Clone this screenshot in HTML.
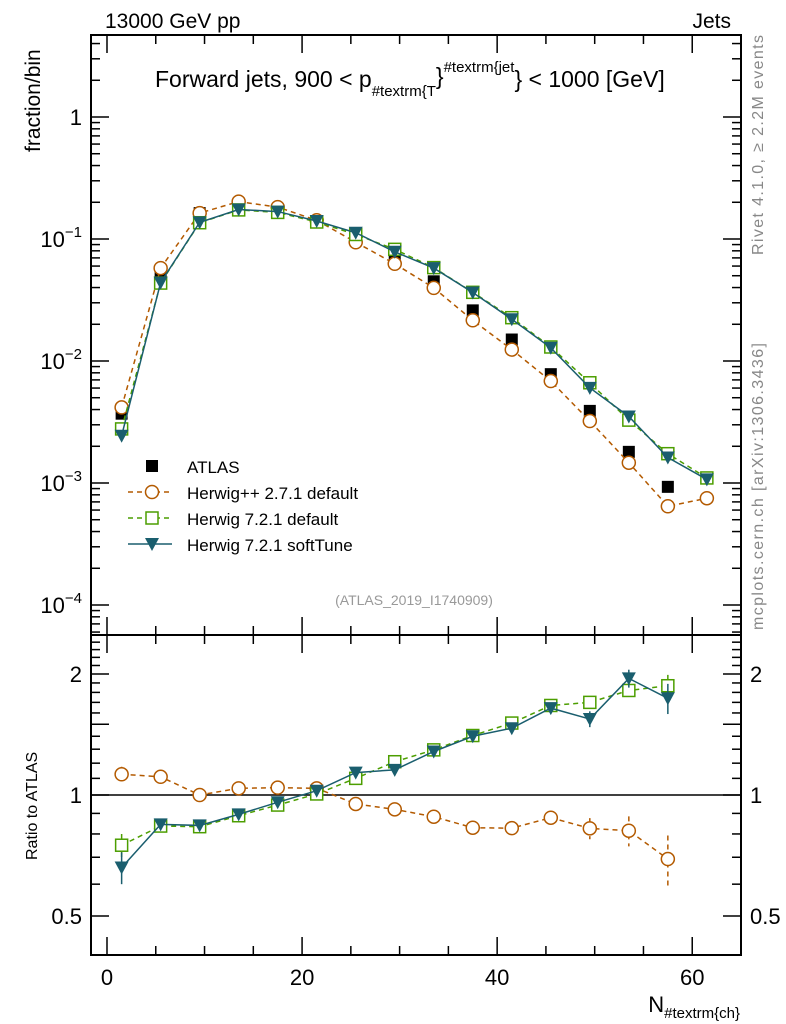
<!DOCTYPE html>
<html><head><meta charset="utf-8"><style>
html,body{margin:0;padding:0;background:#fff;}
svg{display:block;font-family:"Liberation Sans",sans-serif;}
</style></head><body>
<svg id="c" width="786" height="1024" viewBox="0 0 786 1024"></svg>
<script>
const xCenters=[1.5,5.5,9.5,13.5,17.5,21.5,25.5,29.5,33.5,37.5,41.5,45.5,49.5,53.5,57.5];
const atlasVals=[0.0037,0.052,0.163,0.195,0.175,0.137,0.099,0.068,0.045,0.026,0.015,0.0078,0.0039,0.0018,0.00093];
const hppRatio=[1.126,1.11,1.0,1.039,1.043,1.039,0.95,0.921,0.883,0.829,0.827,0.878,0.826,0.815,0.693];
const hppErr=[0.05,0.02,0.01,0.01,0.01,0.01,0.01,0.01,0.01,0.01,0.02,0.03,0.05,0.07,0.1];
const h7Ratio=[0.75,0.837,0.834,0.888,0.944,1.006,1.10,1.21,1.295,1.406,1.51,1.67,1.70,1.82,1.87];
const h7Err=[0.05,0.01,0.01,0.01,0.01,0.01,0.01,0.01,0.01,0.01,0.02,0.03,0.05,0.08,0.12];
const stRatio=[0.66,0.845,0.84,0.895,0.959,1.025,1.137,1.155,1.283,1.40,1.466,1.645,1.545,1.95,1.74];
const stErr=[0.06,0.01,0.01,0.01,0.01,0.01,0.01,0.01,0.01,0.02,0.02,0.04,0.07,0.1,0.15];
const extraX=[61.5];
const hppExtra=[0.00075];
const h7Extra=[0.0011];
const stExtra=[0.00107];
const xTicks=[0,20,40,60];
const mainTicks=[1e-4,1e-3,1e-2,1e-1,1];
const mainTickBase=["10","10","10","10","1"];
const mainTickExp=["−4","−3","−2","−1",""];
const ratioTicks=[0.5,1,2];
const ratioTickLabels=["0.5","1","2"];

const L=91,R=741,MT=35,MB=635,RT=635,RB=955;
const xmin=-1.64,xmax=65;
const X=v=>L+(v-xmin)/(xmax-xmin)*(R-L);
const Ylog=v=>117-Math.log10(v)*122;
const Yr=v=>795-Math.log2(v)*121;
const svg=document.getElementById('c');
const NS='http://www.w3.org/2000/svg';
function mk(tag,attrs,name,parent){const e=document.createElementNS(NS,tag);for(const k in attrs)e.setAttribute(k,attrs[k]);


(parent||svg).appendChild(e);return e;}
function txt(x,y,s,name,attrs){const t=mk('text',Object.assign({x:x,y:y,'font-size':20,fill:'#000'},attrs||{}),name);t.textContent=s;return t;}

mk('rect',{x:L,y:MT,width:R-L,height:MB-MT,fill:'none',stroke:'#000','stroke-width':2},'main-frame');
mk('rect',{x:L,y:RT,width:R-L,height:RB-RT,fill:'none',stroke:'#000','stroke-width':2},'ratio-frame');
for(let v=0;v<=65;v+=5){const maj=v%20==0;const len=maj?18:9;
 [[MT,1],[MB,-1],[RT,1],[RB,-1]].forEach(([y,d])=>{mk('line',{x1:X(v),x2:X(v),y1:y,y2:y+d*len,stroke:'#000','stroke-width':1.5},'x-tick');});}
xTicks.forEach(v=>txt(X(v),985,String(v),'x-tick-label',{'text-anchor':'middle','font-size':22}));
for(let d=-5;d<=0;d++){for(let m=1;m<=9;m++){const v=m*Math.pow(10,d);const y=Ylog(v);if(y<MT||y>MB)continue;const len=m==1?18:9;
 mk('line',{x1:L,x2:L+len,y1:y,y2:y,stroke:'#000','stroke-width':1.5},'y-tick');
 mk('line',{x1:R,x2:R-len,y1:y,y2:y,stroke:'#000','stroke-width':1.5},'y-tick');}}
mainTicks.forEach((v,i)=>{const t=mk('text',{x:82,y:Ylog(v)+8,'font-size':22,'text-anchor':'end',fill:'#000'},'y-tick-label');
 if(mainTickExp[i]) t.innerHTML=mainTickBase[i]+'<tspan dy="-10" font-size="15">'+mainTickExp[i]+'</tspan>'; else t.textContent=mainTickBase[i];});
for(let v=0.4;v<=2.5;v+=0.1){const y=Yr(v);if(y<RT||y>RB)continue;const maj=[0.5,1,1.5,2].some(t=>Math.abs(t-v)<1e-6);const len=maj?18:9;
 mk('line',{x1:L,x2:L+len,y1:y,y2:y,stroke:'#000','stroke-width':1.5},'ratio-tick');
 mk('line',{x1:R,x2:R-len,y1:y,y2:y,stroke:'#000','stroke-width':1.5},'ratio-tick');}
ratioTicks.forEach((v,i)=>{txt(82,Yr(v)+8,ratioTickLabels[i],'ratio-tick-label',{'text-anchor':'end','font-size':22});
 txt(750,Yr(v)+8,ratioTickLabels[i],'ratio-tick-label-right',{'font-size':22});});
mk('line',{x1:L,x2:R,y1:Yr(1),y2:Yr(1),stroke:'#000','stroke-width':1.5},'ratio-unity-line');

const C_HPP='#b35a00',C_H7='#4c9e00',C_ST='#1a5e6e';
function markers(kind,x,y,col,name){
 if(kind=='circ')mk('circle',{cx:x,cy:y,r:6.5,fill:'#fff',stroke:col,'stroke-width':1.5},name);
 else if(kind=='sq')mk('rect',{x:x-6,y:y-6,width:12,height:12,fill:'#fff',stroke:col,'stroke-width':1.5},name);
 else if(kind=='tri')mk('path',{d:`M${x-7},${y-6}L${x+7},${y-6}L${x},${y+7}Z`,fill:col},name);
 else mk('rect',{x:x-6,y:y-6,width:12,height:12,fill:'#000'},name);}
function series(xs,ys,col,dash,kind,name,Yf,errs){
 const pts=xs.map((x,i)=>X(x)+','+Yf(ys[i])).join(' ');
 mk('polyline',{points:pts,fill:'none',stroke:col,'stroke-width':1.5,'stroke-dasharray':dash||'none'},name+'-line');
 xs.forEach((x,i)=>{ if(errs){const e=errs[i];mk('line',{x1:X(x),x2:X(x),y1:Yf(ys[i]+e),y2:Yf(Math.max(ys[i]-e,0.01)),stroke:col,'stroke-width':1.5,'stroke-dasharray':dash||'none'},name+'-errbar');}
  markers(kind,X(x),Yf(ys[i]),col,name+'-point');});}
const xsExt=xCenters.concat(extraX);
const hppMain=atlasVals.map((v,i)=>v*hppRatio[i]).concat(hppExtra);
const h7Main=atlasVals.map((v,i)=>v*h7Ratio[i]).concat(h7Extra);
const stMain=atlasVals.map((v,i)=>v*stRatio[i]).concat(stExtra);
atlasVals.forEach((v,i)=>markers('atlas',X(xCenters[i]),Ylog(v),'#000','atlas-point'));
series(xsExt,hppMain,C_HPP,'5,4','circ','herwigpp-main',Ylog);
series(xsExt,h7Main,C_H7,'5,4','sq','herwig7-default-main',Ylog);
series(xsExt,stMain,C_ST,null,'tri','herwig7-softtune-main',Ylog);
series(xCenters,hppRatio,C_HPP,'5,4','circ','herwigpp-ratio',Yr,hppErr);
series(xCenters,h7Ratio,C_H7,'5,4','sq','herwig7-default-ratio',Yr,h7Err);
series(xCenters,stRatio,C_ST,null,'tri','herwig7-softtune-ratio',Yr,stErr);

const leg=[['atlas','#000',null,'ATLAS'],['circ',C_HPP,'5,4','Herwig++ 2.7.1 default'],['sq',C_H7,'5,4','Herwig 7.2.1 default'],['tri',C_ST,null,'Herwig 7.2.1 softTune']];
leg.forEach((l,i)=>{const y=466+i*26;
 if(i>0)mk('line',{x1:128,x2:172,y1:y,y2:y,stroke:l[1],'stroke-width':1.5,'stroke-dasharray':l[2]||'none'},'legend-line');
 markers(l[0],152,y,l[1],'legend-marker');
 txt(187,y+7,l[3],'legend-label',{'font-size':17});});

txt(105,28,'13000 GeV pp','energy-label',{'font-size':21});
txt(731,28,'Jets','process-label',{'text-anchor':'end','font-size':21});
const tt=mk('text',{x:155,y:87,'font-size':23,fill:'#000'},'plot-title');
tt.innerHTML='Forward jets, 900 &lt; p<tspan dy="9" font-size="15">#textrm{T</tspan><tspan dy="-12">}</tspan><tspan dy="-12" font-size="15">#textrm{jet</tspan><tspan dy="15">} &lt; 1000 [GeV]</tspan>';
txt(414,605,'(ATLAS_2019_I1740909)','analysis-id',{'text-anchor':'middle','font-size':14,fill:'#999'});
txt(0,0,'fraction/bin','y-axis-title',{'font-size':21,transform:'translate(40,152) rotate(-90)'});
txt(0,0,'Ratio to ATLAS','ratio-axis-title',{'font-size':16,transform:'translate(37,860) rotate(-90)'});
const xt=mk('text',{x:740,y:1012,'font-size':22,'text-anchor':'end',fill:'#000'},'x-axis-title');
xt.innerHTML='N<tspan dy="6" font-size="15">#textrm{ch}</tspan>';
txt(0,0,'Rivet 4.1.0, ≥ 2.2M events','rivet-label',{'font-size':16,fill:'#888','textLength':220,transform:'translate(763,255) rotate(-90)'});
txt(0,0,'mcplots.cern.ch [arXiv:1306.3436]','mcplots-label',{'font-size':16,fill:'#888','textLength':287,transform:'translate(763,630) rotate(-90)'});
</script>
</body></html>
